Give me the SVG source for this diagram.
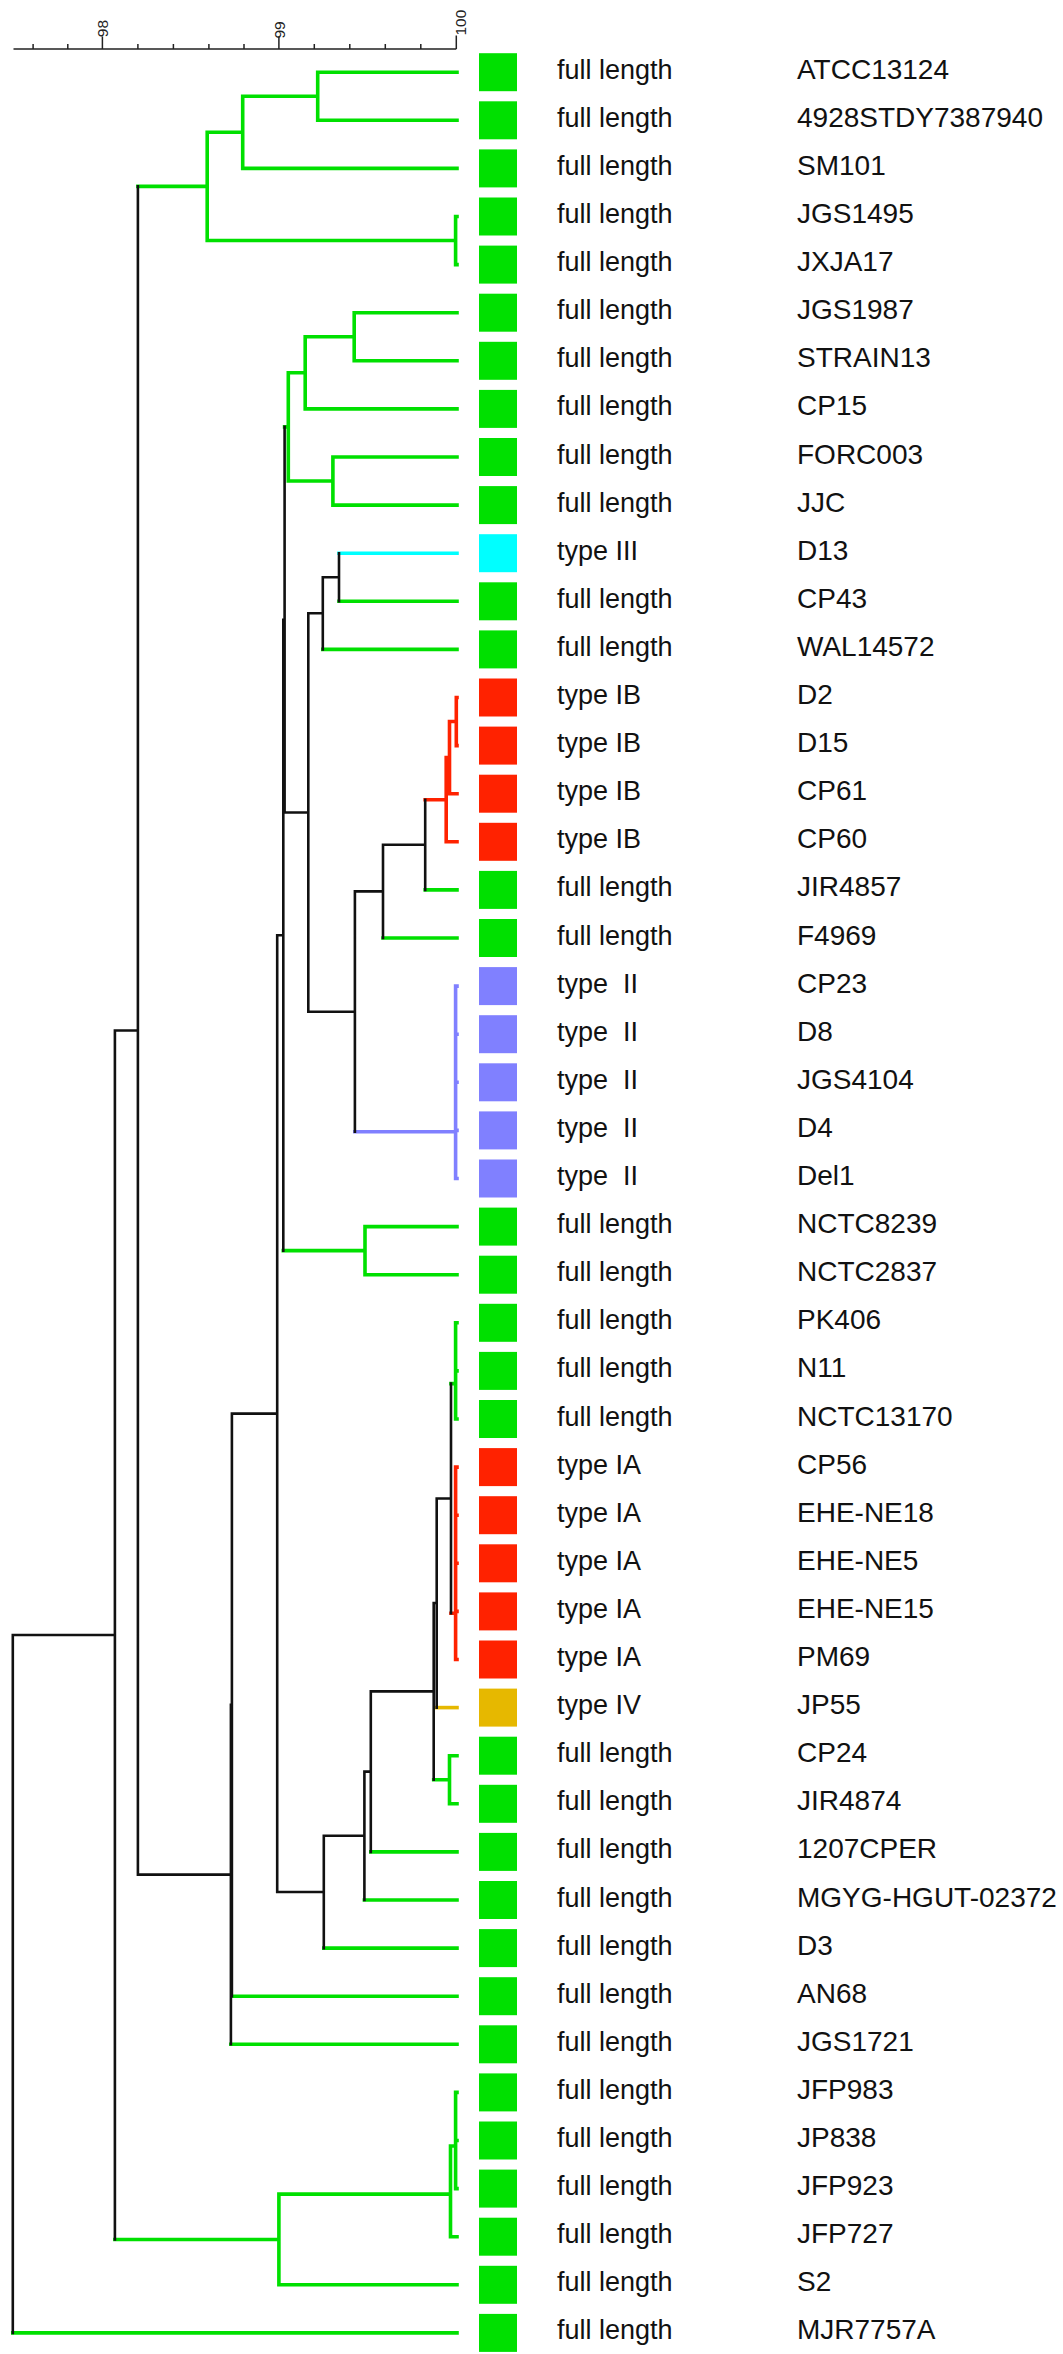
<svg xmlns="http://www.w3.org/2000/svg" width="1063" height="2354" viewBox="0 0 1063 2354">
<style>
.bg{fill:#ffffff}
.ax{stroke:#222;stroke-width:1.5;fill:none}
.axt{font-family:"Liberation Sans",Arial,sans-serif;font-size:15.5px;fill:#222}
.e{fill:none;stroke-linecap:square}
.k{stroke:#111;stroke-width:2.6}
.g{stroke:#00E000;stroke-width:3.6}
.r{stroke:#FF2200;stroke-width:3.6}
.p{stroke:#8080FF;stroke-width:3.6}
.c{stroke:#00FFFF;stroke-width:3.6}
.o{stroke:#E6B800;stroke-width:3.6}
.bxg{fill:#00E000}.bxr{fill:#FF2200}.bxp{fill:#8080FF}.bxc{fill:#00FFFF}.bxo{fill:#E6B800}
.t{font-family:"Liberation Sans",Arial,sans-serif;font-size:27px;fill:#111}
.n{font-family:"Liberation Sans",Arial,sans-serif;font-size:28px;fill:#111}
</style>
<rect class="bg" x="0" y="0" width="1063" height="2354"/>
<g id="axis">
<path class="ax" d="M13.5 49H456.3 M33.1 49V44 M67.8 49V44 M102.4 49V36.5 M137.9 49V44 M173.4 49V44 M208.9 49V44 M244 49V44 M278.9 49V36.5 M314.3 49V44 M349.8 49V44 M385.3 49V44 M420.8 49V44 M456.3 49V35.5"/>
<text class="axt" transform="translate(108.2 37.2) rotate(-90)">98</text>
<text class="axt" transform="translate(284.7 38.5) rotate(-90)">99</text>
<text class="axt" transform="translate(466 35.5) rotate(-90)">100</text>
</g>
<g id="connectors">
<path class="e g" d="M317.7 72.2H457 M317.7 120.3H457 M317.7 72.2V120.3 M242.7 96.25H317.7 M242.7 168.4H457 M242.7 96.25V168.4 M207.2 132.3H242.7 M455.6 216.5V264.6 M455.6 216.5H457 M455.6 264.6H457 M207.2 240.55H455.6 M207.2 132.3V240.55 M137.9 186.4H207.2"/>
<path class="e g" d="M354.2 312.7H457 M354.2 360.8H457 M354.2 312.7V360.8 M305.2 336.75H354.2 M305.2 408.9H457 M305.2 336.75V408.9 M288.3 372.8H305.2 M332.9 457H457 M332.9 505.1H457 M332.9 457V505.1 M288.3 481.05H332.9 M288.3 372.8V481.05 M284.6 426.9H288.3"/>
<path class="e c" d="M339 553.2H457"/>
<path class="e g" d="M339 601.3H457 M322.8 649.4H457 M425.2 889.9H457 M383 938H457"/>
<path class="e r" d="M456.3 697.5V745.6 M456.3 697.5H457 M456.3 745.6H457 M449.5 721.55H456.3 M449.5 721.55V793.7 M449.5 793.7H457 M446.2 757.6H449.5 M446.2 757.6V841.8 M446.2 841.8H457 M425.2 799.7H446.2"/>
<path class="e p" d="M354.9 1131.8H455.6 M455.6 986.1V1178.5 M455.6 986.1H457 M455.6 1034.2H457 M455.6 1082.3H457 M455.6 1130.4H457 M455.6 1178.5H457"/>
<path class="e g" d="M283.3 1250.65H365 M365 1226.6V1274.7 M365 1226.6H457 M365 1274.7H457"/>
<path class="e g" d="M455.6 1322.8V1419 M455.6 1322.8H457 M455.6 1370.9H457 M455.6 1419H457 M451 1383.6H455.6"/>
<path class="e r" d="M455.6 1467.1V1659.5 M455.6 1467.1H457 M455.6 1515.2H457 M455.6 1563.3H457 M455.6 1611.4H457 M455.6 1659.5H457 M451 1613.3H455.6"/>
<path class="e o" d="M436.7 1707.6H457"/>
<path class="e g" d="M433.7 1779.75H449.5 M449.5 1755.7V1803.8 M449.5 1755.7H457 M449.5 1803.8H457 M370.8 1851.9H457 M364.4 1900H457 M323.8 1948.1H457 M231.9 1996.2H457 M230.9 2044.3H457"/>
<path class="e g" d="M455.6 2092.4V2188.6 M455.6 2092.4H457 M455.6 2140.5H457 M455.6 2188.6H457 M450.5 2146V2236.7 M450.5 2146H455.6 M450.5 2236.7H457 M278.9 2194.1H450.5 M278.9 2194.1V2284.8 M278.9 2284.8H457 M114.9 2239.45H278.9 M12.8 2332.9H457"/>
<path class="e k" d="M137.9 186.4V1874.6 M284.6 426.9V812.5 M339 553.2V601.3 M322.8 577.25H339 M322.8 577.25V649.4 M308.3 613.3H322.8 M308.3 613.3V1011.75 M284.6 812.5H308.3 M308.3 1011.75H354.9 M425.2 799.7V889.9 M383 844.8H425.2 M383 844.8V938 M354.9 891.4H383 M354.9 891.4V1131.8 M283.3 619.7H284.6 M283.3 619.7V1250.65 M277.2 935.2H283.3 M277.2 935.2V1892 M231.9 1413.6H277.2 M451 1383.6V1613.3 M436.7 1498.5H451 M436.7 1498.5V1707.6 M433.7 1603H436.7 M433.7 1603V1779.75 M370.8 1691.4H433.7 M370.8 1691.4V1851.9 M364.4 1771.65H370.8 M364.4 1771.65V1900 M323.8 1835.8H364.4 M323.8 1835.8V1948.1 M277.2 1892H323.8 M231.9 1413.6V1996.2 M230.9 1704.9H231.9 M230.9 1704.9V2044.3 M137.9 1874.6H230.9 M114.9 1030.5H137.9 M114.9 1030.5V2239.45 M12.8 1635H114.9 M12.8 1635V2332.9"/>
</g>
<g id="leaves">
<g id="n1"><rect class="bxg" x="479" y="53.2" width="38" height="38"/><text class="t" x="557" y="78.7">full length</text><text class="n" x="797" y="78.7">ATCC13124</text></g>
<g id="n2"><rect class="bxg" x="479" y="101.3" width="38" height="38"/><text class="t" x="557" y="126.8">full length</text><text class="n" x="797" y="126.8">4928STDY7387940</text></g>
<g id="n3"><rect class="bxg" x="479" y="149.4" width="38" height="38"/><text class="t" x="557" y="174.9">full length</text><text class="n" x="797" y="174.9">SM101</text></g>
<g id="n4"><rect class="bxg" x="479" y="197.5" width="38" height="38"/><text class="t" x="557" y="223">full length</text><text class="n" x="797" y="223">JGS1495</text></g>
<g id="n5"><rect class="bxg" x="479" y="245.6" width="38" height="38"/><text class="t" x="557" y="271.1">full length</text><text class="n" x="797" y="271.1">JXJA17</text></g>
<g id="n6"><rect class="bxg" x="479" y="293.7" width="38" height="38"/><text class="t" x="557" y="319.2">full length</text><text class="n" x="797" y="319.2">JGS1987</text></g>
<g id="n7"><rect class="bxg" x="479" y="341.8" width="38" height="38"/><text class="t" x="557" y="367.3">full length</text><text class="n" x="797" y="367.3">STRAIN13</text></g>
<g id="n8"><rect class="bxg" x="479" y="389.9" width="38" height="38"/><text class="t" x="557" y="415.4">full length</text><text class="n" x="797" y="415.4">CP15</text></g>
<g id="n9"><rect class="bxg" x="479" y="438" width="38" height="38"/><text class="t" x="557" y="463.5">full length</text><text class="n" x="797" y="463.5">FORC003</text></g>
<g id="n10"><rect class="bxg" x="479" y="486.1" width="38" height="38"/><text class="t" x="557" y="511.6">full length</text><text class="n" x="797" y="511.6">JJC</text></g>
<g id="n11"><rect class="bxc" x="479" y="534.2" width="38" height="38"/><text class="t" x="557" y="559.7">type III</text><text class="n" x="797" y="559.7">D13</text></g>
<g id="n12"><rect class="bxg" x="479" y="582.3" width="38" height="38"/><text class="t" x="557" y="607.8">full length</text><text class="n" x="797" y="607.8">CP43</text></g>
<g id="n13"><rect class="bxg" x="479" y="630.4" width="38" height="38"/><text class="t" x="557" y="655.9">full length</text><text class="n" x="797" y="655.9">WAL14572</text></g>
<g id="n14"><rect class="bxr" x="479" y="678.5" width="38" height="38"/><text class="t" x="557" y="704">type IB</text><text class="n" x="797" y="704">D2</text></g>
<g id="n15"><rect class="bxr" x="479" y="726.6" width="38" height="38"/><text class="t" x="557" y="752.1">type IB</text><text class="n" x="797" y="752.1">D15</text></g>
<g id="n16"><rect class="bxr" x="479" y="774.7" width="38" height="38"/><text class="t" x="557" y="800.2">type IB</text><text class="n" x="797" y="800.2">CP61</text></g>
<g id="n17"><rect class="bxr" x="479" y="822.8" width="38" height="38"/><text class="t" x="557" y="848.3">type IB</text><text class="n" x="797" y="848.3">CP60</text></g>
<g id="n18"><rect class="bxg" x="479" y="870.9" width="38" height="38"/><text class="t" x="557" y="896.4">full length</text><text class="n" x="797" y="896.4">JIR4857</text></g>
<g id="n19"><rect class="bxg" x="479" y="919" width="38" height="38"/><text class="t" x="557" y="944.5">full length</text><text class="n" x="797" y="944.5">F4969</text></g>
<g id="n20"><rect class="bxp" x="479" y="967.1" width="38" height="38"/><text class="t" x="557" y="992.6" xml:space="preserve">type  II</text><text class="n" x="797" y="992.6">CP23</text></g>
<g id="n21"><rect class="bxp" x="479" y="1015.2" width="38" height="38"/><text class="t" x="557" y="1040.7" xml:space="preserve">type  II</text><text class="n" x="797" y="1040.7">D8</text></g>
<g id="n22"><rect class="bxp" x="479" y="1063.3" width="38" height="38"/><text class="t" x="557" y="1088.8" xml:space="preserve">type  II</text><text class="n" x="797" y="1088.8">JGS4104</text></g>
<g id="n23"><rect class="bxp" x="479" y="1111.4" width="38" height="38"/><text class="t" x="557" y="1136.9" xml:space="preserve">type  II</text><text class="n" x="797" y="1136.9">D4</text></g>
<g id="n24"><rect class="bxp" x="479" y="1159.5" width="38" height="38"/><text class="t" x="557" y="1185" xml:space="preserve">type  II</text><text class="n" x="797" y="1185">Del1</text></g>
<g id="n25"><rect class="bxg" x="479" y="1207.6" width="38" height="38"/><text class="t" x="557" y="1233.1">full length</text><text class="n" x="797" y="1233.1">NCTC8239</text></g>
<g id="n26"><rect class="bxg" x="479" y="1255.7" width="38" height="38"/><text class="t" x="557" y="1281.2">full length</text><text class="n" x="797" y="1281.2">NCTC2837</text></g>
<g id="n27"><rect class="bxg" x="479" y="1303.8" width="38" height="38"/><text class="t" x="557" y="1329.3">full length</text><text class="n" x="797" y="1329.3">PK406</text></g>
<g id="n28"><rect class="bxg" x="479" y="1351.9" width="38" height="38"/><text class="t" x="557" y="1377.4">full length</text><text class="n" x="797" y="1377.4">N11</text></g>
<g id="n29"><rect class="bxg" x="479" y="1400" width="38" height="38"/><text class="t" x="557" y="1425.5">full length</text><text class="n" x="797" y="1425.5">NCTC13170</text></g>
<g id="n30"><rect class="bxr" x="479" y="1448.1" width="38" height="38"/><text class="t" x="557" y="1473.6">type IA</text><text class="n" x="797" y="1473.6">CP56</text></g>
<g id="n31"><rect class="bxr" x="479" y="1496.2" width="38" height="38"/><text class="t" x="557" y="1521.7">type IA</text><text class="n" x="797" y="1521.7">EHE-NE18</text></g>
<g id="n32"><rect class="bxr" x="479" y="1544.3" width="38" height="38"/><text class="t" x="557" y="1569.8">type IA</text><text class="n" x="797" y="1569.8">EHE-NE5</text></g>
<g id="n33"><rect class="bxr" x="479" y="1592.4" width="38" height="38"/><text class="t" x="557" y="1617.9">type IA</text><text class="n" x="797" y="1617.9">EHE-NE15</text></g>
<g id="n34"><rect class="bxr" x="479" y="1640.5" width="38" height="38"/><text class="t" x="557" y="1666">type IA</text><text class="n" x="797" y="1666">PM69</text></g>
<g id="n35"><rect class="bxo" x="479" y="1688.6" width="38" height="38"/><text class="t" x="557" y="1714.1">type IV</text><text class="n" x="797" y="1714.1">JP55</text></g>
<g id="n36"><rect class="bxg" x="479" y="1736.7" width="38" height="38"/><text class="t" x="557" y="1762.2">full length</text><text class="n" x="797" y="1762.2">CP24</text></g>
<g id="n37"><rect class="bxg" x="479" y="1784.8" width="38" height="38"/><text class="t" x="557" y="1810.3">full length</text><text class="n" x="797" y="1810.3">JIR4874</text></g>
<g id="n38"><rect class="bxg" x="479" y="1832.9" width="38" height="38"/><text class="t" x="557" y="1858.4">full length</text><text class="n" x="797" y="1858.4">1207CPER</text></g>
<g id="n39"><rect class="bxg" x="479" y="1881" width="38" height="38"/><text class="t" x="557" y="1906.5">full length</text><text class="n" x="797" y="1906.5">MGYG-HGUT-02372</text></g>
<g id="n40"><rect class="bxg" x="479" y="1929.1" width="38" height="38"/><text class="t" x="557" y="1954.6">full length</text><text class="n" x="797" y="1954.6">D3</text></g>
<g id="n41"><rect class="bxg" x="479" y="1977.2" width="38" height="38"/><text class="t" x="557" y="2002.7">full length</text><text class="n" x="797" y="2002.7">AN68</text></g>
<g id="n42"><rect class="bxg" x="479" y="2025.3" width="38" height="38"/><text class="t" x="557" y="2050.8">full length</text><text class="n" x="797" y="2050.8">JGS1721</text></g>
<g id="n43"><rect class="bxg" x="479" y="2073.4" width="38" height="38"/><text class="t" x="557" y="2098.9">full length</text><text class="n" x="797" y="2098.9">JFP983</text></g>
<g id="n44"><rect class="bxg" x="479" y="2121.5" width="38" height="38"/><text class="t" x="557" y="2147">full length</text><text class="n" x="797" y="2147">JP838</text></g>
<g id="n45"><rect class="bxg" x="479" y="2169.6" width="38" height="38"/><text class="t" x="557" y="2195.1">full length</text><text class="n" x="797" y="2195.1">JFP923</text></g>
<g id="n46"><rect class="bxg" x="479" y="2217.7" width="38" height="38"/><text class="t" x="557" y="2243.2">full length</text><text class="n" x="797" y="2243.2">JFP727</text></g>
<g id="n47"><rect class="bxg" x="479" y="2265.8" width="38" height="38"/><text class="t" x="557" y="2291.3">full length</text><text class="n" x="797" y="2291.3">S2</text></g>
<g id="n48"><rect class="bxg" x="479" y="2313.9" width="38" height="38"/><text class="t" x="557" y="2339.4">full length</text><text class="n" x="797" y="2339.4">MJR7757A</text></g>
</g>
</svg>
